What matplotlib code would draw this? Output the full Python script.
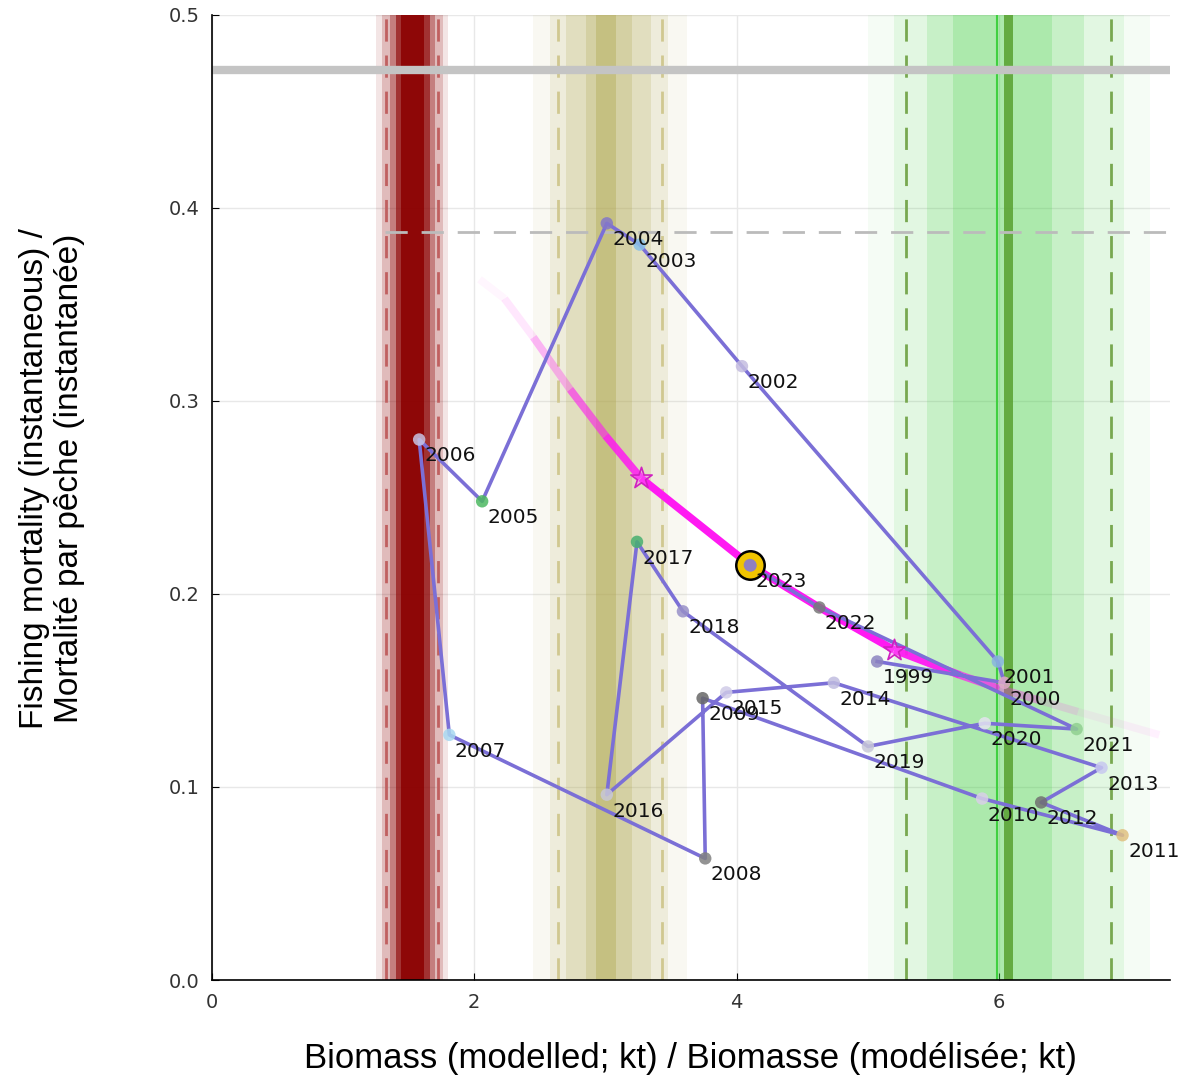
import matplotlib.pyplot as plt
from matplotlib.collections import LineCollection
import numpy as np

# trajectory: biomass (kt) and fishing mortality by year
years = [1999, 2000, 2001, 2002, 2003, 2004, 2005, 2006, 2007, 2008, 2009, 2010,
         2011, 2012, 2013, 2014, 2015, 2016, 2017, 2018, 2019, 2020, 2021, 2022, 2023]
biomass = [5.07, 6.04, 5.99, 4.04, 3.26, 3.01, 2.06, 1.58, 1.81, 3.76, 3.74, 5.87,
           6.94, 6.32, 6.78, 4.74, 3.92, 3.01, 3.24, 3.59, 5.00, 5.89, 6.59, 4.63, 4.10]
fmort = [0.165, 0.154, 0.165, 0.318, 0.381, 0.392, 0.248, 0.280, 0.127, 0.063, 0.146, 0.094,
         0.075, 0.092, 0.110, 0.154, 0.149, 0.096, 0.227, 0.191, 0.121, 0.133, 0.130, 0.193, 0.215]
point_colors = ['#8c84c0', '#e0a8c8', '#88b4e0', '#c4bce0', '#88c0e8', '#8478c8', '#4cb860',
                '#c8c4e4', '#a8d8f0', '#808080', '#686868', '#d8d0e8', '#e0c080', '#707070',
                '#c8c8f0', '#c0bce0', '#d0cce8', '#c8c8d8', '#48b070', '#9890c8', '#c8c8d8',
                '#e4e4f0', '#90d090', '#787878', '#9080c0']

# equilibrium curve (magenta)
curve_b = [2.04, 2.23, 2.45, 2.73, 3.00, 3.27, 4.10, 4.63, 5.20, 5.70, 6.00, 6.30, 6.60, 7.22]
curve_f = [0.363, 0.353, 0.333, 0.306, 0.282, 0.260, 0.215, 0.193, 0.171, 0.158, 0.151, 0.145, 0.139, 0.127]
curve_alpha = [0.04, 0.1, 0.3, 0.6, 0.85, 1.0, 1.0, 1.0, 0.95, 0.7, 0.35, 0.15, 0.06]
stars_b = [3.27, 5.20]
stars_f = [0.260, 0.171]

# reference point bands: (lo, hi, alpha)
lrp_spans = [(1.25, 1.80, 0.10), (1.30, 1.76, 0.18), (1.36, 1.70, 0.32),
             (1.40, 1.66, 0.6), (1.44, 1.62, 0.85)]
lrp_dash = [1.33, 1.72]
usr_spans = [(2.45, 3.62, 0.07), (2.58, 3.48, 0.14), (2.70, 3.35, 0.2),
             (2.85, 3.20, 0.25), (2.93, 3.08, 0.4)]
usr_dash = [2.64, 3.43]
bmsy_spans = [(5.00, 7.15, 0.05), (5.20, 6.95, 0.10), (5.45, 6.65, 0.16), (5.65, 6.40, 0.2)]
bmsy_dash = [5.29, 6.85]
bmsy_center = 6.07
bmsy_line = 5.98

f_ref_solid = 0.4715
f_ref_dash = 0.3876

fig = plt.figure(figsize=(11.9, 10.76), dpi=100)
ax = fig.add_axes([0.178, 0.0892, 0.805, 0.897])

ax.grid(True, color='#e8e8e8', linewidth=1)
ax.set_axisbelow(True)

for lo, hi, a in lrp_spans:
    ax.axvspan(lo, hi, color='#8b0000', alpha=a, lw=0)
for x in lrp_dash:
    ax.axvline(x, color='#c06060', lw=2, dashes=(8, 5))
for lo, hi, a in usr_spans:
    ax.axvspan(lo, hi, color='#b0a850', alpha=a, lw=0)
for x in usr_dash:
    ax.axvline(x, color='#d0c890', lw=2, dashes=(8, 5))
for lo, hi, a in bmsy_spans:
    ax.axvspan(lo, hi, color='#40d040', alpha=a, lw=0)
ax.axvline(bmsy_line, color='#40d040', lw=1.5)
ax.axvspan(bmsy_center - 0.035, bmsy_center + 0.035, color='#58a030', alpha=0.85, lw=0)
for x in bmsy_dash:
    ax.axvline(x, color='#78a850', lw=2, dashes=(8, 5))

ax.axhline(f_ref_solid, color='#c4c4c4', lw=6)
ax.hlines(f_ref_dash, 1.32, 7.3, color='#bbbbbb', lw=2, linestyles=(0, (8, 5)))

# magenta curve with fading ends
pts = np.column_stack([curve_b, curve_f])
segs = [pts[i:i + 2] for i in range(len(pts) - 1)]
cols = [(1.0, 0.1, 0.95, a) for a in curve_alpha]
ax.add_collection(LineCollection(segs, colors=cols, linewidths=5.5, capstyle='butt'))
ax.scatter(stars_b, stars_f, marker='*', s=260, facecolor=(1, 0.4, 1, 0.35),
           edgecolor='#d020c0', linewidth=1.2, zorder=5)

ax.plot(biomass, fmort, color='#7b6fd6', lw=2.6, zorder=4)
ax.scatter(biomass, fmort, s=80, c=point_colors, alpha=0.85, zorder=5, linewidths=0)
ax.scatter([biomass[-1]], [fmort[-1]], s=420, facecolor='#f0c400', edgecolor='black',
           linewidth=1.8, zorder=4)
ax.scatter([biomass[-1]], [fmort[-1]], s=80, c=point_colors[-1], zorder=5, linewidths=0)

for yr, b, f in zip(years, biomass, fmort):
    ax.annotate(str(yr), (b, f), xytext=(4, -5), textcoords='offset points',
                ha='left', va='top', fontsize=14.5, color='#111111', zorder=6)

ax.set_xlim(0, 7.3)
ax.set_ylim(0, 0.5)
ax.set_xticks([0, 2, 4, 6])
ax.set_yticks([0.0, 0.1, 0.2, 0.3, 0.4, 0.5])
ax.set_yticklabels(['0.0', '0.1', '0.2', '0.3', '0.4', '0.5'])
ax.tick_params(direction='in', labelsize=14, length=5, pad=9, labelcolor='#333333')
ax.spines['top'].set_visible(False)
ax.spines['right'].set_visible(False)
ax.spines['left'].set_linewidth(1.2)
ax.spines['bottom'].set_linewidth(1.2)

ax.set_xlabel('Biomass (modelled; kt) / Biomasse (modélisée; kt)',
              fontsize=25, family='Liberation Sans', labelpad=22)
ax.set_ylabel('Fishing mortality (instantaneous) /\nMortalité par pêche (instantanée)',
              fontsize=24, family='Liberation Sans')
ax.yaxis.set_label_coords(-0.132, 0.52)

fig.savefig('out.png', dpi=100)
